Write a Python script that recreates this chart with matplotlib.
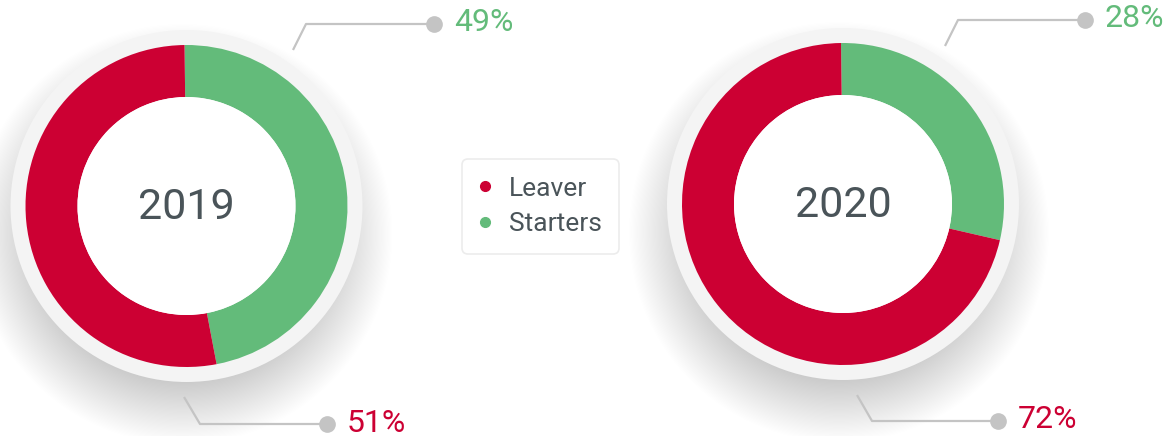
import matplotlib.pyplot as plt
import numpy as np
from matplotlib.patches import Circle
from matplotlib.lines import Line2D

plt.rcParams['font.family'] = ['Roboto', 'DejaVu Sans']

# data
years = ["2019", "2020"]
categories = ["Starters", "Leaver"]
starters_label = [49, 28]
leaver_label = [51, 72]
# arc sizes as drawn in the picture (2019 arc reads a bit under its label)
starters_arc = [47.2, 28.8]
leaver_arc = [52.8, 71.2]
colors = {"Leaver": "#cc0033", "Starters": "#63bb7a"}

W, H = 1173, 436
fig = plt.figure(figsize=(W / 100, H / 100), dpi=100)
ax = fig.add_axes([0, 0, 1, 1])

# layout (pixel coords, y from top)
centers = [(186.5, 206), (843, 204)]
r_out, r_in, r_bg = 161, 109, 176
tops = [((293, 50), (306, 24), (434, 24)), ((945, 46), (958, 20), (1085, 20))]
bottoms = [((184, 397), (200, 424), (327, 424)), ((857, 395), (872, 421), (998, 421))]

def fy(y):
    return H - y

for i, year in enumerate(years):
    cx, cy = centers[i]
    # soft drop shadow, mostly below the ring
    for k in range(60):
        ax.add_patch(Circle((cx - 4, fy(cy + 28)), r_bg + 34 - k * 1.2, color='#000000',
                            alpha=0.0022, lw=0, zorder=1))
    ax.add_patch(Circle((cx, fy(cy)), r_bg, color='#f4f4f4', lw=0, zorder=2))
    vals = [starters_arc[i], leaver_arc[i]]
    ax.pie(vals, colors=[colors[c] for c in categories], startangle=90.7,
           counterclock=False, radius=r_out, center=(cx, fy(cy)),
           wedgeprops=dict(width=r_out - r_in, linewidth=0, zorder=3),
           frame=True)
    ax.add_patch(Circle((cx, fy(cy)), r_in, color='white', lw=0, zorder=3))
    ax.text(cx, fy(cy + 2), year, ha='center', va='center', fontsize=31,
            color='#4a5459', zorder=5)

    for pts, val, cat in [(tops[i], starters_label[i], "Starters"),
                          (bottoms[i], leaver_label[i], "Leaver")]:
        xs = [p[0] for p in pts]
        ys = [fy(p[1]) for p in pts]
        ax.plot(xs, ys, color='#c4c4c4', lw=1.6, zorder=4, solid_capstyle='butt')
        ax.plot(xs[-1], ys[-1], 'o', color='#c4c4c4', ms=11, zorder=4)
        ax.text(xs[-1] + 20, min(ys[-1], fy(20)) + 1, f"{val}%", ha='left', va='center',
                fontsize=23, color=colors[cat], zorder=5)

ax.set_xlim(0, W)
ax.set_ylim(0, H)
ax.set_aspect('equal')
ax.axis('off')

handles = [Line2D([], [], marker='o', ls='', color=colors["Leaver"], ms=7),
           Line2D([], [], marker='o', ls='', color=colors["Starters"], ms=7)]
leg = ax.legend(handles, ["Leaver", "Starters"], loc='center',
                bbox_to_anchor=(540.5, fy(206.5)), bbox_transform=ax.transData,
                fontsize=19, labelcolor='#4a5459', frameon=True, fancybox=True,
                edgecolor='#ececec', framealpha=1, borderpad=0.65,
                handletextpad=0.7, labelspacing=0.45, handlelength=0.4)
leg.get_frame().set_linewidth(1.2)

fig.savefig('out.png', dpi=100, facecolor='white')
